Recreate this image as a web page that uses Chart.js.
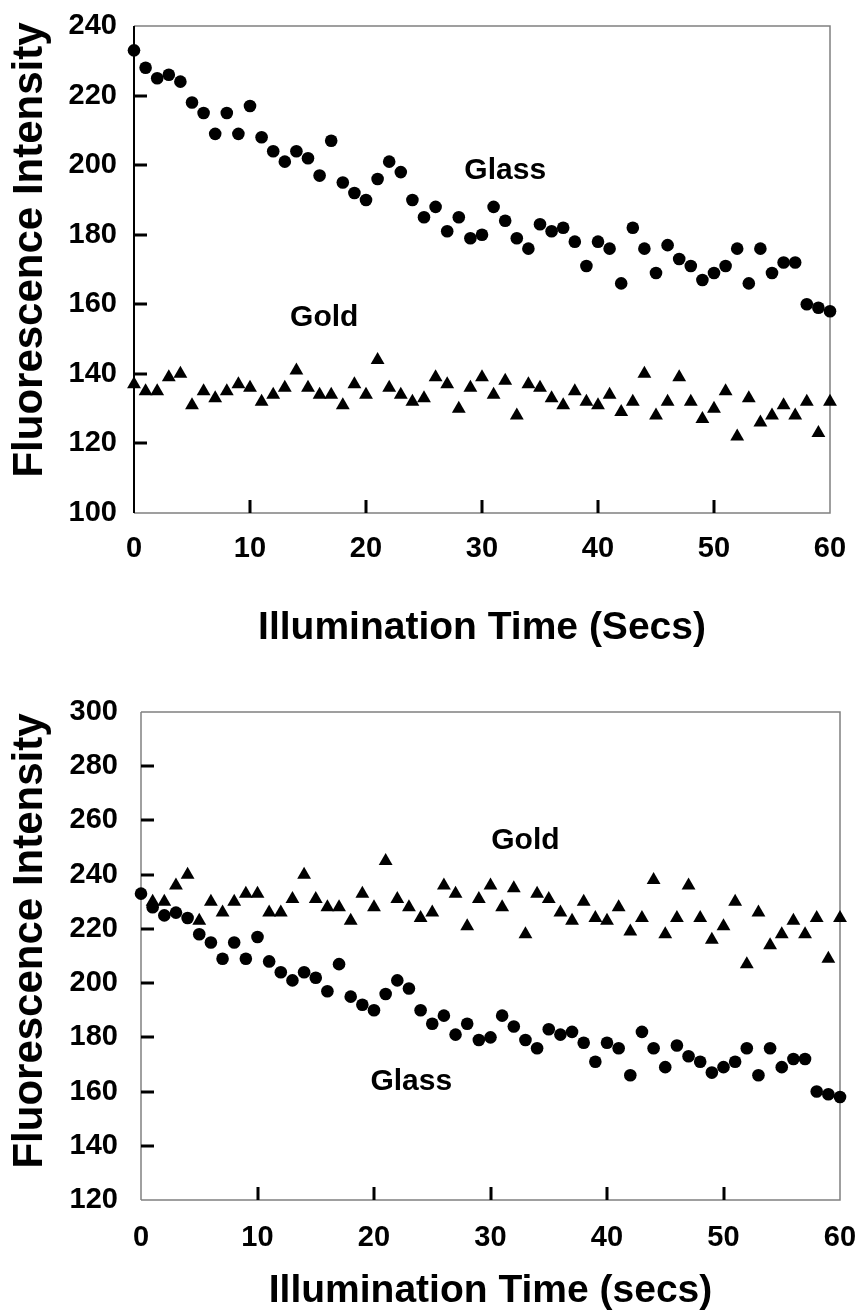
<!DOCTYPE html>
<html>
<head>
<meta charset="utf-8">
<script src="https://cdn.jsdelivr.net/npm/chart.js@4.4.0/dist/chart.umd.min.js"></script>
<style>
  html, body { margin: 0; padding: 0; background: #fff; }
  #wrap { position: relative; width: 860px; height: 1313px; }
  canvas { position: absolute; left: 0; }
</style>
</head>
<body>
<div id="wrap">
  <canvas id="topChart" width="860" height="656" style="top:0"></canvas>
  <canvas id="bottomChart" width="860" height="657" style="top:656px"></canvas>
</div>
<script>
// illumination time, one reading per second
const seconds = [0, 1, 2, 3, 4, 5, 6, 7, 8, 9, 10, 11, 12, 13, 14, 15, 16, 17, 18, 19, 20,
  21, 22, 23, 24, 25, 26, 27, 28, 29, 30, 31, 32, 33, 34, 35, 36, 37, 38, 39, 40,
  41, 42, 43, 44, 45, 46, 47, 48, 49, 50, 51, 52, 53, 54, 55, 56, 57, 58, 59, 60];

// top panel
const glassTop = [233, 228, 225, 226, 224, 218, 215, 209, 215, 209,
  217, 208, 204, 201, 204, 202, 197, 207, 195, 192,
  190, 196, 201, 198, 190, 185, 188, 181, 185, 179,
  180, 188, 184, 179, 176, 183, 181, 182, 178, 171,
  178, 176, 166, 182, 176, 169, 177, 173, 171, 167,
  169, 171, 176, 166, 176, 169, 172, 172, 160, 159,
  158];
const goldTop = [137, 135, 135, 139, 140, 131, 135, 133, 135, 137,
  136, 132, 134, 136, 141, 136, 134, 134, 131, 137,
  134, 144, 136, 134, 132, 133, 139, 137, 130, 136,
  139, 134, 138, 128, 137, 136, 133, 131, 135, 132,
  131, 134, 129, 132, 140, 128, 132, 139, 132, 127,
  130, 135, 122, 133, 126, 128, 131, 128, 132, 123,
  132];

// bottom panel
const glassBottom = [233, 228, 225, 226, 224, 218, 215, 209, 215, 209,
  217, 208, 204, 201, 204, 202, 197, 207, 195, 192,
  190, 196, 201, 198, 190, 185, 188, 181, 185, 179,
  180, 188, 184, 179, 176, 183, 181, 182, 178, 171,
  178, 176, 166, 182, 176, 169, 177, 173, 171, 167,
  169, 171, 176, 166, 176, 169, 172, 172, 160, 159,
  158];
const goldBottom = [null, 230, 230, 236, 240, 223, 230, 226, 230, 233,
  233, 226, 226, 231, 240, 231, 228, 228, 223, 233,
  228, 245, 231, 228, 224, 226, 236, 233, 221, 231,
  236, 228, 235, 218, 233, 231, 226, 223, 230, 224,
  223, 228, 219, 224, 238, 218, 224, 236, 224, 216,
  221, 230, 207, 226, 214, 218, 223, 218, 224, 209,
  224];

const xTicks = [0, 10, 20, 30, 40, 50, 60];
const topYTicks = [100, 120, 140, 160, 180, 200, 220, 240];
const bottomYTicks = [120, 140, 160, 180, 200, 220, 240, 260, 280, 300];

const tickFont = { family: "'Liberation Sans Narrow', 'Arial Narrow', 'Liberation Sans', Arial, sans-serif", size: 29, weight: 'bold', lineHeight: 1 };
const titleFamily = "'Liberation Sans', Arial, sans-serif";

function toPoints(values) {
  return seconds
    .map((s, i) => ({ x: s, y: values[i] }))
    .filter(p => p.y !== null);
}

// keep the plot box where it is, labels may hang over the edges
function noScalePadding(s) {
  s.paddingLeft = 0;
  s.paddingRight = 0;
  s.paddingTop = 0;
  s.paddingBottom = 0;
}

// box, inward tick marks, y title and the in-plot labels
const framePlugin = {
  id: 'frame',
  beforeDatasetsDraw(chart, args, opts) {
    const { ctx, chartArea: a } = chart;
    ctx.save();
    ctx.lineWidth = 1.5;
    ctx.strokeStyle = '#808080';
    ctx.beginPath();
    ctx.moveTo(a.left, a.top);
    ctx.lineTo(a.right, a.top);
    ctx.lineTo(a.right, a.bottom);
    ctx.lineTo(a.left, a.bottom);
    ctx.stroke();

    ctx.strokeStyle = opts.leftColor;
    ctx.lineWidth = opts.leftWidth;
    ctx.beginPath();
    ctx.moveTo(a.left, a.top);
    ctx.lineTo(a.left, a.bottom);
    ctx.stroke();
    ctx.restore();
  },
  afterDraw(chart, args, opts) {
    const { ctx, chartArea: a } = chart;
    const xs = chart.scales.x;
    const ys = chart.scales.y;
    ctx.save();

    // tick marks pointing into the plot
    ctx.fillStyle = '#000';
    opts.yTicks.slice(1, -1).forEach(v => {
      const py = Math.round(ys.getPixelForValue(v));
      ctx.fillRect(a.left, py - 1.5, 13, 3);
    });
    xTicks.slice(1, -1).forEach(v => {
      const px = Math.round(xs.getPixelForValue(v));
      ctx.fillRect(px - 1.5, a.bottom - 13, 3, 13);
    });

    ctx.textAlign = 'center';
    ctx.textBaseline = 'middle';
    ctx.font = 'bold 30px ' + titleFamily;
    opts.labels.forEach(l => {
      ctx.fillText(l.text, xs.getPixelForValue(l.x), ys.getPixelForValue(l.y));
    });

    ctx.translate(opts.yTitleX, opts.yTitleY);
    ctx.rotate(-Math.PI / 2);
    ctx.font = 'bold 42px ' + titleFamily;
    ctx.fillText('Fluorescence Intensity', 0, 0);
    ctx.restore();
  }
};

function makeChart(id, cfg) {
  return new Chart(document.getElementById(id), {
    type: 'scatter',
    data: {
      datasets: [
        {
          label: 'Glass',
          data: toPoints(cfg.glass),
          pointStyle: 'circle',
          pointRadius: 6.3,
          pointBorderWidth: 0,
          backgroundColor: '#000',
          clip: false
        },
        {
          label: 'Gold',
          data: toPoints(cfg.gold),
          pointStyle: 'triangle',
          pointRadius: 8,
          pointBorderWidth: 0,
          backgroundColor: '#000',
          clip: false
        }
      ]
    },
    options: {
      responsive: false,
      animation: false,
      events: [],
      layout: { padding: { top: cfg.padTop, right: cfg.padRight, left: 0, bottom: 0 } },
      plugins: {
        legend: { display: false },
        tooltip: { enabled: false },
        frame: {
          leftColor: cfg.leftColor,
          leftWidth: cfg.leftWidth,
          yTicks: cfg.yTicks,
          yTitleX: 30,
          yTitleY: cfg.yTitleY,
          labels: cfg.labels
        }
      },
      scales: {
        x: {
          type: 'linear',
          min: 0,
          max: 60,
          afterBuildTicks: s => { s.ticks = xTicks.map(v => ({ value: v })); },
          afterFit: s => { s.height = cfg.xHeight; noScalePadding(s); },
          grid: { display: false, drawTicks: false },
          border: { display: false },
          ticks: { color: '#000', font: tickFont, padding: cfg.xTickPad, maxRotation: 0 },
          title: {
            display: true,
            text: cfg.xTitle,
            color: '#000',
            font: { family: titleFamily, size: 39, weight: 'bold', lineHeight: 1 },
            padding: { top: 0, bottom: cfg.xTitlePad }
          }
        },
        y: {
          type: 'linear',
          min: cfg.yTicks[0],
          max: cfg.yTicks[cfg.yTicks.length - 1],
          afterBuildTicks: s => { s.ticks = cfg.yTicks.map(v => ({ value: v })); },
          afterFit: s => { s.width = cfg.yWidth; noScalePadding(s); },
          grid: { display: false, drawTicks: false },
          border: { display: false },
          ticks: { color: '#000', font: tickFont, padding: cfg.yTickPad }
        }
      }
    },
    plugins: [framePlugin]
  });
}

makeChart('topChart', {
  glass: glassTop,
  gold: goldTop,
  yTicks: topYTicks,
  padTop: 26,
  padRight: 30,
  xHeight: 143,
  yWidth: 134,
  xTickPad: 21,
  yTickPad: 17,
  xTitle: 'Illumination Time (Secs)',
  xTitlePad: 8,
  leftColor: '#000',
  leftWidth: 2,
  yTitleY: 250,
  labels: [
    { text: 'Glass', x: 32.0, y: 198.3 },
    { text: 'Gold', x: 16.4, y: 156.1 }
  ]
});

makeChart('bottomChart', {
  glass: glassBottom,
  gold: goldBottom,
  yTicks: bottomYTicks,
  padTop: 56,
  padRight: 20,
  xHeight: 113,
  yWidth: 141,
  xTickPad: 23,
  yTickPad: 23,
  xTitle: 'Illumination Time (secs)',
  xTitlePad: 2,
  leftColor: '#808080',
  leftWidth: 1.5,
  yTitleY: 285,
  labels: [
    { text: 'Gold', x: 33.0, y: 252.4 },
    { text: 'Glass', x: 23.2, y: 163.5 }
  ]
});
</script>
</body>
</html>
